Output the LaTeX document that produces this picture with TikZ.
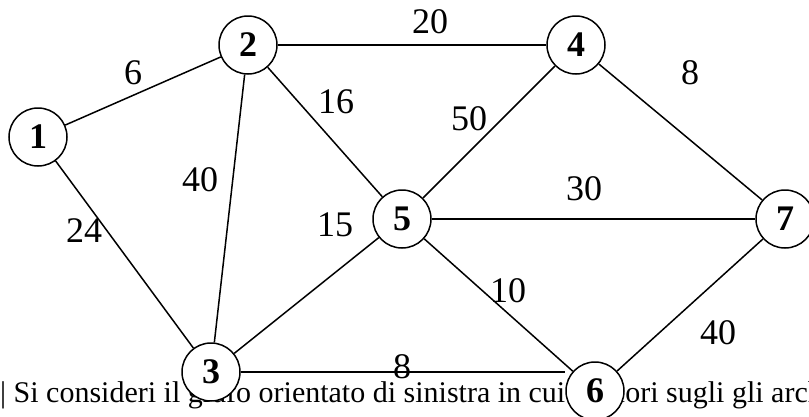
\documentclass[tikz,border=0pt]{standalone}
\usepackage{fontspec}
\setmainfont{Liberation Serif}
\tikzset{
  vertex/.style={circle,draw=black,line width=1.5pt,fill=white,minimum size=58pt,inner sep=0pt,font=\fontsize{36}{36}\selectfont\bfseries},
  weight/.style={inner sep=0pt,font=\fontsize{36}{36}\selectfont},
  arc/.style={draw=black,line width=1.5pt}
}
\begin{document}
\begin{tikzpicture}[x=1pt,y=-1pt]
  \useasboundingbox (0,0) rectangle (809,416);
  \clip (0,0) rectangle (809,416);

  % Sentence behind the graph
  \node[anchor=base west,inner sep=0pt,font=\fontsize{30}{36}\selectfont] (txt) at (0,402) {| Si consideri il grafo orientato di sinistra in cui i valori sugli gli archi};

  % Vertices
  \node[vertex] (v1) at (38,137) {1};
  \node[vertex] (v2) at (248,45) {2};
  \node[vertex] (v4) at (576,45) {4};
  \node[vertex] (v5) at (402,219) {5};
  \node[vertex] (v7) at (785,219) {7};
  \node[vertex] (v3) at (211,372) {3};
  \node[vertex] (v6) at (595,391) {6};

  % Arcs
  \draw[arc] (v1) -- (v2);
  \draw[arc] (v1) -- (v3);
  \draw[arc] (v2) -- (v3);
  \draw[arc] (v2) -- (v4);
  \draw[arc] (v2) -- (v5);
  \draw[arc] (v3) -- (v5);
  \draw[arc] (v3) -- (v3 -| v6.west);
  \draw[arc] (v4) -- (v5);
  \draw[arc] (v4) -- (v7);
  \draw[arc] (v5) -- (v7);
  \draw[arc] (v5) -- (v6);
  \draw[arc] (v6) -- (v7);

  % Weights
  \node[weight] (w12) at (133,73) {6};
  \node[weight] (w24) at (430,22) {20};
  \node[weight] (w25) at (336,102) {16};
  \node[weight] (w47) at (690,73) {8};
  \node[weight] (w45) at (469,119) {50};
  \node[weight] (w23) at (200,180) {40};
  \node[weight] (w57) at (584,189) {30};
  \node[weight] (w13) at (84,231) {24};
  \node[weight] (w35) at (335,225) {15};
  \node[weight] (w56) at (508,291) {10};
  \node[weight] (w67) at (718,333) {40};
  \node[weight] (w36) at (402,367) {8};
\end{tikzpicture}
\end{document}
